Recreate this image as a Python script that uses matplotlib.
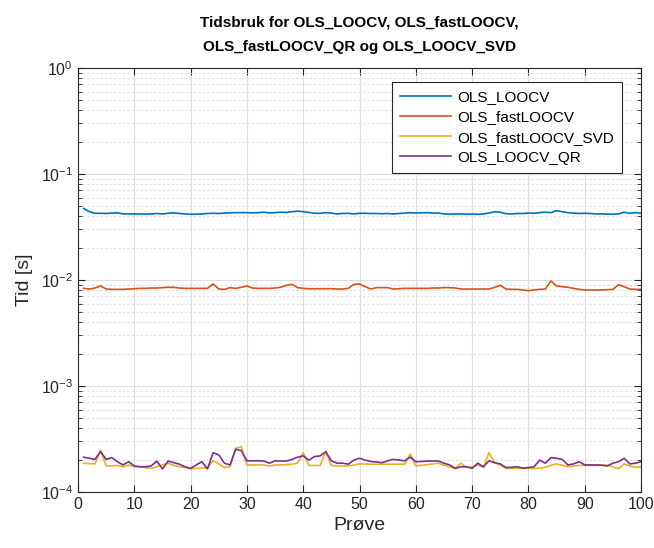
import numpy as np
import matplotlib
matplotlib.use('Agg')
import matplotlib.pyplot as plt

plt.rcParams['font.family'] = ['Liberation Sans', 'DejaVu Sans']

# Prøve 1..100
proeve = np.arange(1, 101)

loocv = [0.0474, 0.0441, 0.0426, 0.0426, 0.0424, 0.0428, 0.0430, 0.0420, 0.0420, 0.0420,
         0.0420, 0.0418, 0.0420, 0.0424, 0.0420, 0.0426, 0.0430, 0.0424, 0.0420, 0.0417,
         0.0418, 0.0420, 0.0424, 0.0426, 0.0424, 0.0428, 0.0430, 0.0432, 0.0432, 0.0432,
         0.0430, 0.0432, 0.0436, 0.0430, 0.0432, 0.0436, 0.0434, 0.0441, 0.0446, 0.0441,
         0.0434, 0.0426, 0.0426, 0.0432, 0.0428, 0.0420, 0.0424, 0.0426, 0.0420, 0.0426,
         0.0426, 0.0424, 0.0424, 0.0422, 0.0424, 0.0420, 0.0424, 0.0428, 0.0432, 0.0428,
         0.0430, 0.0432, 0.0428, 0.0428, 0.0420, 0.0418, 0.0420, 0.0420, 0.0418, 0.0420,
         0.0417, 0.0420, 0.0428, 0.0441, 0.0436, 0.0422, 0.0420, 0.0424, 0.0424, 0.0428,
         0.0426, 0.0432, 0.0436, 0.0432, 0.0451, 0.0441, 0.0432, 0.0428, 0.0424, 0.0426,
         0.0424, 0.0420, 0.0420, 0.0418, 0.0417, 0.0420, 0.0436, 0.0426, 0.0432, 0.0426]

fast_loocv = [0.00834, 0.00822, 0.00840, 0.00878, 0.00822, 0.00816, 0.00816, 0.00816, 0.00822, 0.00828,
              0.00834, 0.00834, 0.00840, 0.00840, 0.00847, 0.00853, 0.00853, 0.00840, 0.00834, 0.00834,
              0.00834, 0.00834, 0.00834, 0.00917, 0.00822, 0.00816, 0.00847, 0.00834, 0.00853, 0.00878,
              0.00840, 0.00834, 0.00834, 0.00834, 0.00840, 0.00853, 0.00891, 0.00910, 0.00847, 0.00834,
              0.00828, 0.00828, 0.00828, 0.00828, 0.00828, 0.00822, 0.00822, 0.00834, 0.00910, 0.00917,
              0.00865, 0.00822, 0.00847, 0.00847, 0.00847, 0.00822, 0.00828, 0.00834, 0.00834, 0.00834,
              0.00834, 0.00834, 0.00840, 0.00840, 0.00847, 0.00847, 0.00840, 0.00822, 0.00822, 0.00822,
              0.00822, 0.00822, 0.00822, 0.00853, 0.00891, 0.00822, 0.00816, 0.00816, 0.00805, 0.00793,
              0.00805, 0.00816, 0.00822, 0.00979, 0.00878, 0.00865, 0.00853, 0.00834, 0.00816, 0.00805,
              0.00805, 0.00805, 0.00805, 0.00811, 0.00816, 0.00903, 0.00865, 0.00822, 0.00816, 0.00816]

# values in units of 1e-4 s
fast_svd = [1.87, 1.85, 1.84, 2.49, 1.76, 1.76, 1.78, 1.73, 1.80, 1.73,
            1.73, 1.70, 1.67, 1.73, 1.80, 1.87, 1.78, 1.73, 1.70, 1.65,
            1.67, 1.68, 1.70, 1.97, 1.84, 1.70, 1.73, 2.58, 2.68, 1.80,
            1.80, 1.80, 1.80, 1.76, 1.80, 1.80, 1.81, 1.83, 1.87, 2.35,
            1.78, 1.78, 1.78, 2.40, 1.78, 1.76, 1.76, 1.76, 1.80, 1.84,
            1.84, 1.83, 1.83, 1.83, 1.83, 1.83, 1.83, 1.83, 2.28, 1.76,
            1.79, 1.81, 1.84, 1.87, 1.79, 1.73, 1.67, 1.87, 1.70, 1.73,
            1.80, 1.70, 2.35, 1.89, 1.80, 1.67, 1.67, 1.67, 1.67, 1.67,
            1.67, 1.67, 1.71, 1.79, 1.84, 1.79, 1.73, 1.76, 1.78, 1.78,
            1.78, 1.78, 1.79, 1.79, 1.73, 1.66, 1.84, 1.76, 1.71, 1.73]

loocv_qr = [2.13, 2.08, 2.03, 2.40, 2.03, 2.11, 1.93, 1.80, 1.93, 1.76,
            1.73, 1.73, 1.76, 1.96, 1.65, 1.96, 1.89, 1.83, 1.73, 1.67,
            1.80, 1.93, 1.65, 2.35, 2.24, 1.87, 1.80, 2.53, 2.46, 1.97,
            1.97, 1.97, 1.96, 1.87, 1.97, 1.96, 1.96, 2.03, 2.13, 2.19,
            2.00, 2.16, 2.19, 2.40, 1.97, 1.87, 1.87, 1.83, 2.00, 2.08,
            2.00, 1.94, 1.92, 1.89, 1.97, 2.03, 2.00, 1.97, 2.13, 1.93,
            1.94, 1.96, 1.96, 1.96, 1.87, 1.80, 1.67, 1.73, 1.73, 1.67,
            1.87, 1.73, 1.97, 1.89, 1.84, 1.70, 1.71, 1.73, 1.68, 1.70,
            1.73, 2.00, 1.87, 2.11, 2.08, 2.03, 1.80, 1.84, 1.93, 1.80,
            1.80, 1.80, 1.79, 1.76, 1.87, 1.93, 2.08, 1.84, 1.87, 1.93]

labels = ['OLS_LOOCV', 'OLS_fastLOOCV', 'OLS_fastLOOCV_SVD', 'OLS_LOOCV_QR']
colors = ['#0072BD', '#D95319', '#EDB120', '#7E2F8E']

fig = plt.figure(figsize=(6.54, 5.48), dpi=100, facecolor='w')
ax = fig.add_axes([0.1193, 0.1022, 0.8609, 0.7737])

series = [np.array(loocv), np.array(fast_loocv),
          np.array(fast_svd) * 1e-4, np.array(loocv_qr) * 1e-4]
for y, lab, c in zip(series, labels, colors):
    ax.plot(proeve, y, color=c, lw=1.2, label=lab)

ax.set_yscale('log')
ax.set_xlim(0, 100)
ax.set_ylim(1e-4, 1)
ax.set_xticks(np.arange(0, 101, 10))

tc = '#262626'
ax.tick_params(which='both', direction='in', top=True, right=True, colors=tc, labelsize=11.5)
ax.tick_params(which='major', length=5)
ax.tick_params(which='minor', length=3)
for s in ax.spines.values():
    s.set_color(tc)
    s.set_linewidth(0.8)

ax.grid(True, which='major', color='#dedede', lw=0.8, ls='-')
ax.grid(True, which='minor', axis='y', color='#dedede', lw=0.8, ls=(0, (2, 2)))
ax.set_axisbelow(True)

ax.set_xlabel('Prøve', fontsize=14, color=tc, labelpad=4)
ax.set_ylabel('Tid [s]', fontsize=14, color=tc, labelpad=6)
ax.set_title('Tidsbruk for OLS_LOOCV, OLS_fastLOOCV,\nOLS_fastLOOCV_QR og OLS_LOOCV_SVD',
             fontsize=11, fontweight='bold', color='k', pad=12, linespacing=1.95)

leg = ax.legend(loc='upper right', bbox_to_anchor=(0.966, 0.967), fontsize=11,
                handlelength=3.3, handletextpad=0.4, fancybox=False, framealpha=1,
                edgecolor=tc, borderpad=0.55, labelspacing=0.4, borderaxespad=0)
leg.get_frame().set_linewidth(0.8)

fig.savefig('out.png', dpi=100, facecolor='w')
